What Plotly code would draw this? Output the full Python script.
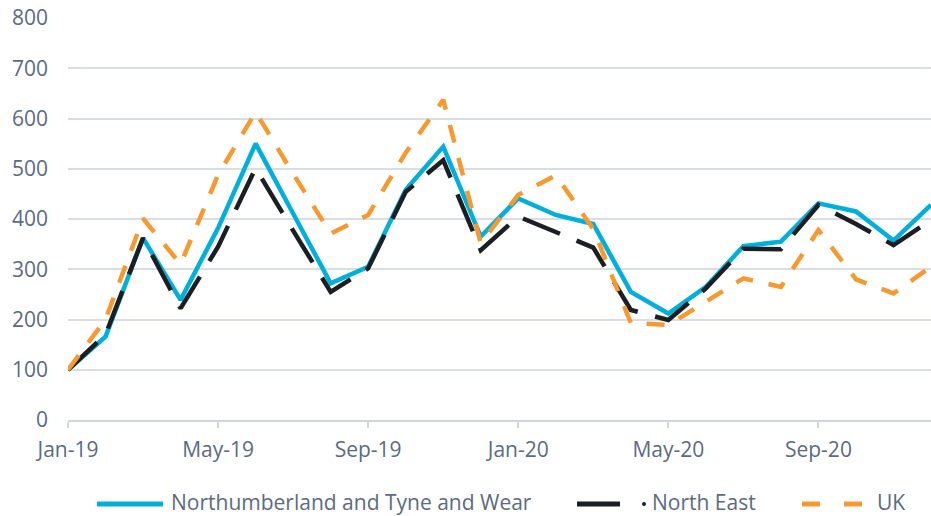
import plotly.graph_objects as go

months = ["Jan-19", "Feb-19", "Mar-19", "Apr-19", "May-19", "Jun-19", "Jul-19", "Aug-19",
          "Sep-19", "Oct-19", "Nov-19", "Dec-19", "Jan-20", "Feb-20", "Mar-20", "Apr-20",
          "May-20", "Jun-20", "Jul-20", "Aug-20", "Sep-20", "Oct-20", "Nov-20", "Dec-20"]

northumberland = [100, 166, 362, 239, 382, 550, 411, 272, 305, 458, 544, 365,
                  441, 408, 390, 255, 212, 265, 346, 355, 431, 415, 357, 428]
north_east = [100, 170, 362, 222, 345, 501, 377, 255, 302, 454, 517, 338,
              405, 373, 343, 219, 199, 262, 341, 340, 428, 390, 348, 398]
uk = [100, 200, 401, 310, 488, 613, 490, 371, 408, 532, 637, 352,
      448, 487, 380, 193, 189, 235, 282, 265, 378, 280, 252, 305]

series_names = ["Northumberland and Tyne and Wear", "North East", "UK"]
tick_months = months[::4]
y_ticks = [0, 100, 200, 300, 400, 500, 600, 700, 800]

TEXT = "#5a6b82"
FONT = "Open Sans"
BLUE, BLACK, ORANGE = "#00b0dc", "#1b1e23", "#f7992e"

W, H = 931, 516
ML, MR, MT, MB = 68, 0, 18, 96
PW, PH = W - ML - MR, H - MT - MB


def px_x(p):
    return (p - ML) / PW


def px_y(p):
    return (H - MB - p) / PH


fig = go.Figure()
fig.add_trace(go.Scatter(x=months, y=northumberland, mode="lines", name=series_names[0],
                         line=dict(color=BLUE, width=4.5)))
fig.add_trace(go.Scatter(x=months, y=north_east, mode="lines", name=series_names[1],
                         line=dict(color=BLACK, width=4.5, dash="40px,18px")))
fig.add_trace(go.Scatter(x=months, y=uk, mode="lines", name=series_names[2],
                         line=dict(color=ORANGE, width=4.5, dash="18px,16px")))

# custom legend (matching the reference's long legend keys)
LY = 504
TY = 501.5
shapes = []
annotations = []


def key_line(x0, x1, color):
    shapes.append(dict(type="line", xref="paper", yref="paper",
                       x0=px_x(x0), x1=px_x(x1), y0=px_y(LY), y1=px_y(LY),
                       line=dict(color=color, width=5)))


key_line(97, 163, BLUE)
key_line(577, 620, BLACK)
shapes.append(dict(type="circle", xref="paper", yref="paper",
                   x0=px_x(642), x1=px_x(646), y0=px_y(LY - 2), y1=px_y(LY + 2),
                   fillcolor=BLACK, line=dict(color=BLACK, width=0)))
key_line(802, 820, ORANGE)
key_line(844, 862, ORANGE)

for name, xpx in zip(series_names, [170, 651, 876]):
    annotations.append(dict(text=name, xref="paper", yref="paper", x=px_x(xpx), y=px_y(TY),
                            xanchor="left", yanchor="middle", showarrow=False, borderpad=0,
                            font=dict(family=FONT, size=21, color=TEXT)))

fig.update_layout(
    width=W, height=H,
    margin=dict(l=ML, r=MR, t=MT, b=MB, autoexpand=False),
    paper_bgcolor="white", plot_bgcolor="white",
    font=dict(family=FONT, size=21, color=TEXT),
    showlegend=False,
    shapes=shapes, annotations=annotations,
    xaxis=dict(type="category", range=[0, 23], tickmode="array", tickvals=tick_months,
               ticktext=tick_months, showgrid=False, showline=True, linecolor="#d0d5de",
               linewidth=1.5, ticks="outside", ticklen=6, tickcolor="#d0d5de", tickwidth=1.5,
               ticklabelstandoff=4, automargin=False,
               tickfont=dict(family=FONT, size=21, color=TEXT), zeroline=False),
    yaxis=dict(range=[0, 800], tickmode="array", tickvals=y_ticks, showgrid=True,
               gridcolor="#d9dde5", gridwidth=1.5, zeroline=False, showline=False,
               ticks="", ticklabelstandoff=19, automargin=False,
               tickfont=dict(family=FONT, size=21, color=TEXT)),
)

fig.write_html("out.html", config={"displayModeBar": False},
               post_script="document.body.style.margin='0px';"
                           "document.body.style.overflow='hidden';")
